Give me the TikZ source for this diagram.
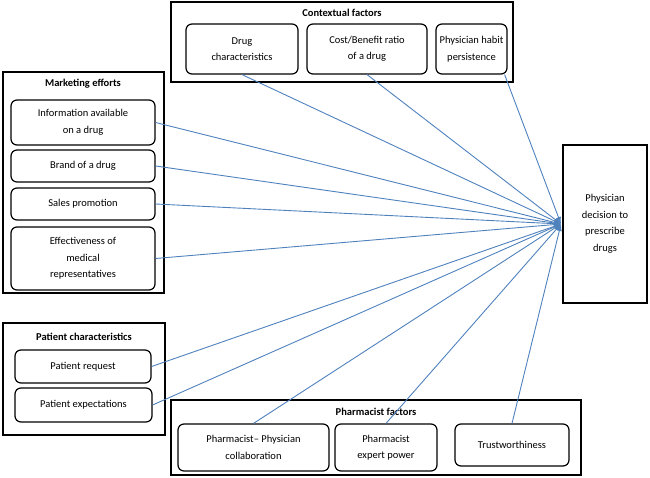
\documentclass[tikz,border=0pt]{standalone}
\usepackage{fontspec}
\setmainfont{Carlito}
\usetikzlibrary{arrows.meta}
\begin{document}
\begin{tikzpicture}[x=1pt,y=-1pt,
  outer/.style={draw=black,line width=1.5pt,fill=white},
  inner/.style={draw=black,line width=1.2pt,rounded corners=6pt,fill=white,align=center,font=\fontsize{10.5}{16.5}\selectfont},
  ttl/.style={font=\bfseries\fontsize{10.5}{13}\selectfont},
  lnk/.style={draw={rgb,255:red,79;green,129;blue,189},line width=0.9pt,-{Latex[length=7pt,width=5pt]}}]
\useasboundingbox (0,0) rectangle (650,478);
% outer boxes
\draw[outer] (171,2) rectangle (513,82);
\node[ttl] (ct) at (342,13) {Contextual factors};
\draw[outer] (3,72) rectangle (164,293);
\node[ttl] (mt) at (83,84) {Marketing efforts};
\draw[outer] (3,323) rectangle (165,435);
\node[ttl] (pt) at (84,337) {Patient characteristics};
\draw[outer] (171,400) rectangle (581,475);
\node[ttl] (ft) at (376,412) {Pharmacist factors};
\node[draw=black,line width=1.5pt,fill=white,minimum width=84pt,minimum height=158pt,align=center,font=\fontsize{10.5}{16.5}\selectfont] (pd) at (605,224) {Physician\\decision to\\prescribe\\drugs};
% inner
\node[inner,minimum width=112pt,minimum height=50pt] (dc) at (242,49) {Drug\\characteristics};
\node[inner,minimum width=120pt,minimum height=50pt] (cb) at (367,49) {Cost/Benefit ratio\\of a drug};
\node[inner,minimum width=71pt,minimum height=50pt] (ph) at (471.5,49) {Physician habit\\persistence};
\node[inner,minimum width=144pt,minimum height=45pt] (ia) at (83,122.5) {Information available\\on a drug};
\node[inner,minimum width=144pt,minimum height=32pt] (br) at (83,166) {Brand of a drug};
\node[inner,minimum width=144pt,minimum height=32pt] (sp) at (83,204) {Sales promotion};
\node[inner,minimum width=144pt,minimum height=63pt] (ef) at (83,258.5) {Effectiveness of\\medical\\representatives};
\node[inner,minimum width=136pt,minimum height=33pt] (pr) at (83,366.5) {Patient request};
\node[inner,minimum width=137pt,minimum height=34pt] (pe) at (83.5,405) {Patient expectations};
\node[inner,minimum width=151pt,minimum height=47pt] (pc) at (253.5,447.5) {Pharmacist– Physician\\collaboration};
\node[inner,minimum width=102pt,minimum height=47pt] (pp) at (386,447.5) {Pharmacist\\expert power};
\node[inner,minimum width=114pt,minimum height=42pt] (tw) at (512,445) {Trustworthiness};
\coordinate (c) at (561,224);
\draw[lnk] (dc.south) -- (c);
\draw[lnk] (cb.south) -- (c);
\draw[lnk] (ph.south east) ++(-3,0) -- (c);
\draw[lnk] (ia.east) -- (c);
\draw[lnk] (br.east) -- (c);
\draw[lnk] (sp.east) -- (c);
\draw[lnk] (ef.east) -- (c);
\draw[lnk] (pr.east) -- (c);
\draw[lnk] (pe.east) -- (c);
\draw[lnk] (pc.north) -- (c);
\draw[lnk] (pp.north) -- (c);
\draw[lnk] (tw.north) -- (c);
\end{tikzpicture}
\end{document}
